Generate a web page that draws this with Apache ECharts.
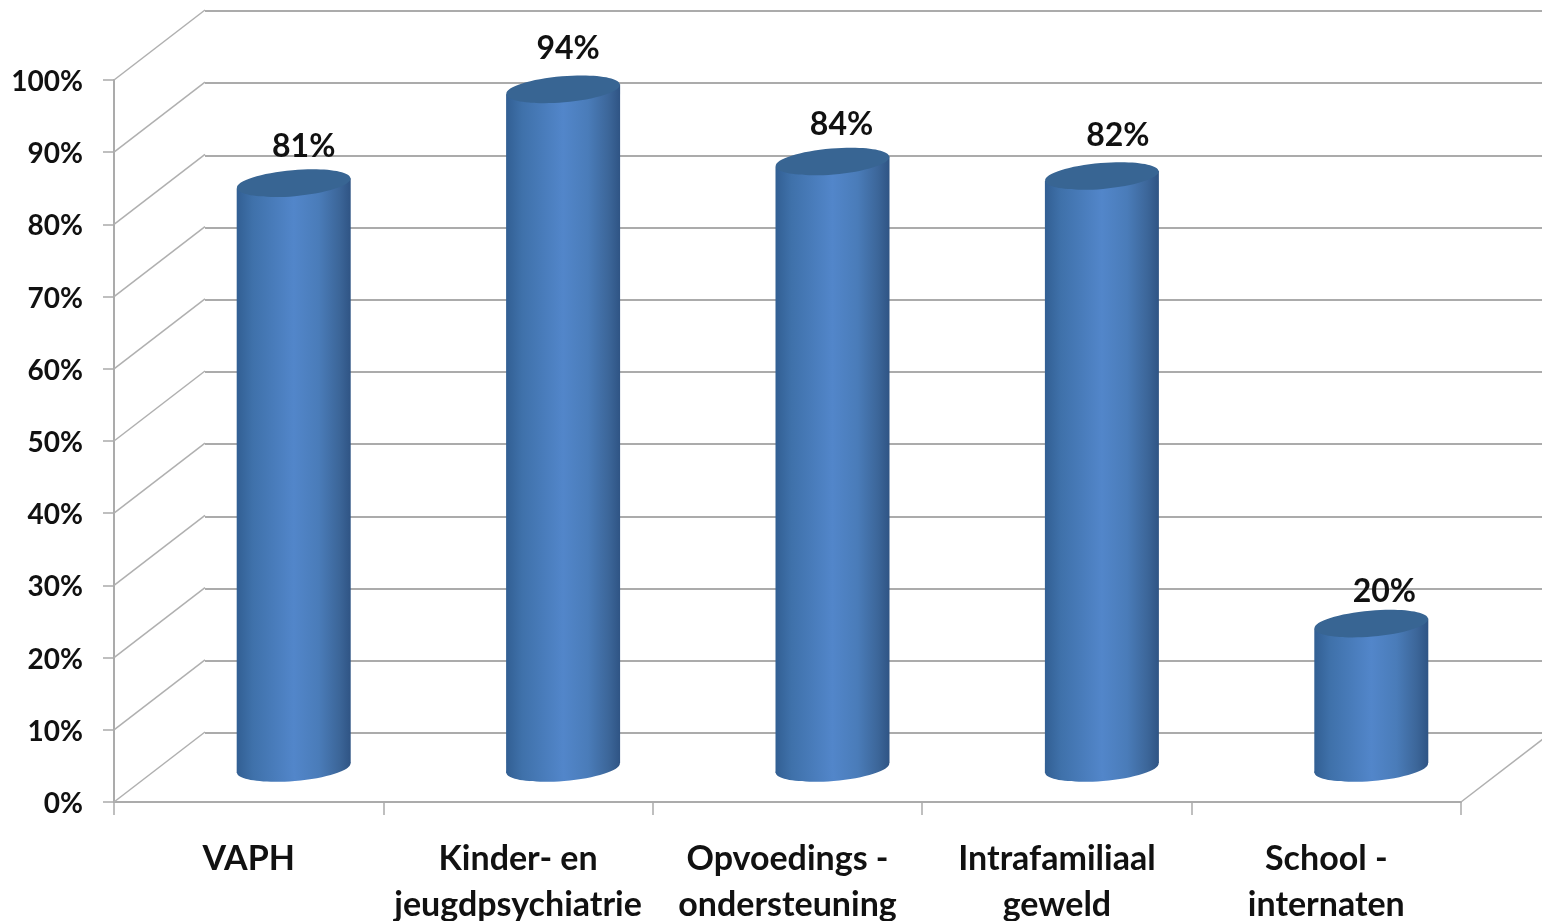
<!DOCTYPE html>
<html>
<head>
<meta charset="utf-8">
<style>html,body{margin:0;padding:0;background:#fff;overflow:hidden}#c{width:1542px;height:921px}</style>
<script src="https://cdn.jsdelivr.net/npm/echarts@6/dist/echarts.min.js"></script>
</head>
<body>
<div id="c"></div>
<script>
const categories = ['VAPH','Kinder- en\njeugdpsychiatrie','Opvoedings -\nondersteuning','Intrafamiliaal\ngeweld','School -\ninternaten'];
const values = [81,94,84,82,20];
const wallTicks = [0,10,20,30,40,50,60,70,80,90,100];

// Pseudo-3D layout (pixels)
const DEPTH_X = 91, DEPTH_Y = 70;      // wall depth
const BAR_DX = 45, BAR_DY = 34;        // bar sits mid-depth
const BAR_RX = 57, BAR_RY = 13, TILT = 0.085, SKEW = 5;
const LABEL_DX = [10,5,9,16,13], LABEL_DY = [-36,-41,-37,-40,-32];
const GRID_COLOR = '#ababab', FONT = 'Lato, "Open Sans", sans-serif';

const bodyFill = new echarts.graphic.LinearGradient(0,0,1,0,[
  {offset:0,color:'#325f93'},{offset:0.14,color:'#3f71aa'},{offset:0.5,color:'#5286ca'},
  {offset:0.72,color:'#4a7cb9'},{offset:0.9,color:'#3c6699'},{offset:1,color:'#2f5484'}]);

const chart = echarts.init(document.getElementById('c'));
chart.setOption({
  animation:false,
  backgroundColor:'#fff',
  grid:[
    {left:114,top:80,width:1347,height:722,outerBoundsMode:'none'},
    {left:114+DEPTH_X,top:80-DEPTH_Y+1,width:1348,height:722,outerBoundsMode:'none'}
  ],
  xAxis:[
    {type:'category',gridIndex:0,data:categories,boundaryGap:true,
     axisLine:{show:true,lineStyle:{color:GRID_COLOR,width:2}},
     axisTick:{show:true,alignWithLabel:false,length:13,lineStyle:{color:GRID_COLOR,width:1.5}},
     axisLabel:{interval:0,margin:34,color:'#111',fontFamily:FONT,fontWeight:'bold',fontSize:34,lineHeight:46,hideOverlap:false}},
    {type:'value',gridIndex:1,show:false,min:0,max:1}
  ],
  yAxis:[
    {type:'value',gridIndex:0,min:0,max:100,interval:10,
     axisLine:{show:true,lineStyle:{color:GRID_COLOR,width:2}},
     axisTick:{show:true,length:11,lineStyle:{color:GRID_COLOR,width:1.5}},
     splitLine:{show:false},
     axisLabel:{formatter:'{value}%',margin:31,verticalAlign:'top',padding:[-12,0,0,0],color:'#111',fontFamily:FONT,fontWeight:'bold',fontSize:28}},
    {type:'value',gridIndex:1,min:0,max:100,interval:10,
     axisLine:{show:false},axisTick:{show:false},axisLabel:{show:false},
     splitLine:{show:true,lineStyle:{color:GRID_COLOR,width:2}}}
  ],
  series:[
    {type:'custom',xAxisIndex:0,yAxisIndex:0,silent:true,clip:false,z:1,
     encode:{x:0,y:1},
     data:wallTicks.map(v=>[0,v]),
     renderItem(params,api){
       const v = api.value(1);
       const y = api.coord([0,v])[1];
       const x = params.coordSys.x;
       const ln = (x0)=>({type:'line',shape:{x1:x0,y1:y,x2:x0+DEPTH_X,y2:y-DEPTH_Y},
         style:{stroke:'#b0b0b0',lineWidth:1.5,fill:null}});
       const kids = [ln(x)];
       if (v===0) kids.push(ln(x+params.coordSys.width));
       return {type:'group',children:kids};
     }},
    {type:'custom',xAxisIndex:0,yAxisIndex:0,silent:true,clip:false,z:5,
     encode:{x:0,y:1},
     data:values.map((v,i)=>[i,v]),
     renderItem(params,api){
       const i = api.value(0);
       const top = api.coord([i,api.value(1)]);
       const base = api.coord([i,0]);
       const cx = top[0]+BAR_DX, ty = top[1]-BAR_DY, by = base[1]-BAR_DY;
       const ell = (y,fill)=>({type:'ellipse',x:cx,y:y,rotation:TILT,
         shape:{cx:0,cy:0,rx:BAR_RX,ry:BAR_RY},style:{fill:fill}});
       return {type:'group',children:[
         ell(by,bodyFill),
         {type:'polygon',shape:{points:[[cx-BAR_RX,ty+SKEW],[cx+BAR_RX,ty-SKEW],[cx+BAR_RX,by-SKEW],[cx-BAR_RX,by+SKEW]]},
          style:{fill:bodyFill}},
         ell(ty,'#386593'),
         {type:'text',x:cx+LABEL_DX[i],y:ty+LABEL_DY[i],
          style:{text:values[i]+'%',fill:'#111',font:'bold 32px '+FONT,align:'center',verticalAlign:'middle'}}
       ]};
     }}
  ]
});
</script>
</body>
</html>
